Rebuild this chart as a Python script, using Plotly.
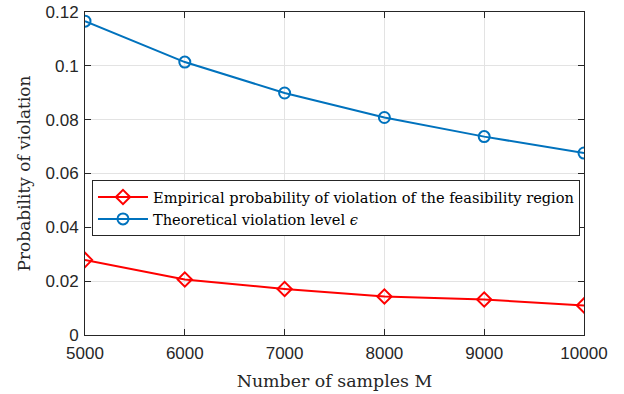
import plotly.graph_objects as go

samples = [5000, 6000, 7000, 8000, 9000, 10000]
empirical = [0.0279, 0.0206, 0.0171, 0.0143, 0.0132, 0.0110]
theoretical = [0.1166, 0.1014, 0.0899, 0.0808, 0.0737, 0.0676]
y_ticks = [0, 0.02, 0.04, 0.06, 0.08, 0.1, 0.12]
y_tick_labels = ["0", "0.02", "0.04", "0.06", "0.08", "0.1", "0.12"]
x_ticks = [5000, 6000, 7000, 8000, 9000, 10000]

fig = go.Figure()
fig.add_trace(go.Scatter(
    x=samples, y=empirical, mode="lines+markers",
    name="Empirical probability of violation of the feasibility region",
    line=dict(color="#FF0000", width=2),
    marker=dict(symbol="diamond-open", size=11, color="#FF0000", line=dict(width=2)),
))
fig.add_trace(go.Scatter(
    x=samples, y=theoretical, mode="lines+markers",
    name="Theoretical violation level <i>ϵ</i>",
    line=dict(color="#0072BD", width=2),
    marker=dict(symbol="circle-open", size=11, color="#0072BD", line=dict(width=2)),
))

axis_common = dict(
    showline=True, linecolor="#262626", linewidth=1, mirror="ticks",
    ticks="inside", ticklen=6, tickcolor="#262626",
    showgrid=True, gridcolor="#E3E3E3", gridwidth=1, zeroline=False,
    automargin=False,
    tickfont=dict(family="Liberation Sans, Arial", size=17, color="#262626"),
)
fig.update_xaxes(
    range=[5000, 10000], tickvals=x_ticks, ticktext=[str(v) for v in x_ticks],
    ticklabelstandoff=3,
    title=dict(text="Number of samples M", font=dict(family="DejaVu Serif", size=17.4, color="#262626"), standoff=12),
    **axis_common,
)
fig.update_yaxes(
    range=[0, 0.12], tickvals=y_ticks, ticktext=y_tick_labels,
    ticklabelstandoff=2,
    title=dict(text="Probability of violation", font=dict(family="DejaVu Serif", size=17, color="#262626"), standoff=10),
    **axis_common,
)
fig.update_layout(
    width=624, height=394,
    margin=dict(l=85, r=40, t=12, b=59),
    paper_bgcolor="white", plot_bgcolor="white",
    showlegend=True,
    legend=dict(
        x=0.014, y=0.48, xanchor="left", yanchor="top",
        bgcolor="white", bordercolor="#262626", borderwidth=1,
        font=dict(family="DejaVu Serif", size=14.6, color="#000000"),
        tracegroupgap=0, itemwidth=50,
    ),
)
fig.write_html("out.html", config={"displayModeBar": False},
               post_script="document.body.style.margin='0';")
